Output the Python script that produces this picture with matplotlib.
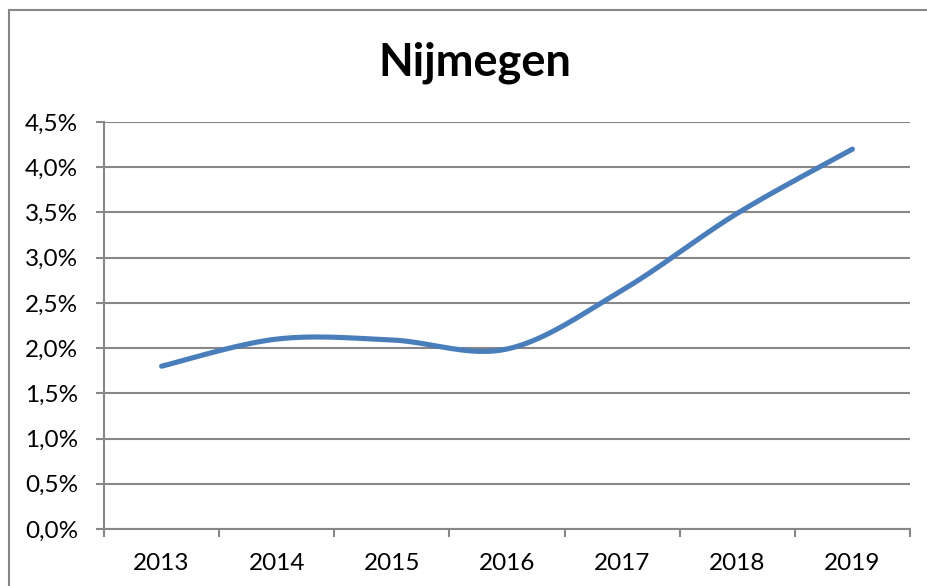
import numpy as np
import matplotlib
matplotlib.use("Agg")
import matplotlib.pyplot as plt
from matplotlib.lines import Line2D

years = ["2013", "2014", "2015", "2016", "2017", "2018", "2019"]
values = [1.80, 2.10, 2.09, 1.99, 2.64, 3.49, 4.20]
y_ticks = [0.0, 0.5, 1.0, 1.5, 2.0, 2.5, 3.0, 3.5, 4.0, 4.5]
title = "Nijmegen"

FONT = ["Lato", "DejaVu Sans"]
GRID = "#878787"
BLUE = "#4a7ebb"


def smooth(xs, ys, n=40):
    # catmull-rom through the points, like the excel "smoothed line" option
    px = np.concatenate([[xs[0]], xs, [xs[-1]]])
    py = np.concatenate([[ys[0]], ys, [ys[-1]]])
    out_x, out_y = [], []
    t = np.linspace(0, 1, n)
    for i in range(1, len(px) - 2):
        p0, p1, p2, p3 = (np.array([px[j], py[j]]) for j in (i - 1, i, i + 1, i + 2))
        c1 = p1 + (p2 - p0) / 6
        c2 = p2 - (p3 - p1) / 6
        b = ((1 - t) ** 3)[:, None] * p1 + (3 * (1 - t) ** 2 * t)[:, None] * c1 \
            + (3 * (1 - t) * t ** 2)[:, None] * c2 + (t ** 3)[:, None] * p2
        out_x.extend(b[:, 0])
        out_y.extend(b[:, 1])
    return np.array(out_x), np.array(out_y)


fig = plt.figure(figsize=(9.28, 5.86), dpi=100)
ax = fig.add_axes([104 / 928, 1 - 529 / 586, 806 / 928, 407 / 586])

x = np.arange(len(years))
sx, sy = smooth(x.astype(float), np.array(values))
ax.plot(sx, sy, color=BLUE, lw=3.7, solid_capstyle="round")

ax.set_xlim(-0.5, len(years) - 0.5)
ax.set_ylim(0, 4.5)
ax.set_yticks(y_ticks)
ax.set_yticklabels([f"{v:.1f}%".replace(".", ",") for v in y_ticks], fontsize=17.5, family=FONT)
ax.set_xticks(x)
ax.set_xticklabels(years, fontsize=17.5, family=FONT)
ax.set_xticks(np.arange(len(years) + 1) - 0.5, minor=True)
ax.tick_params(axis="x", which="major", length=0, pad=17.5)
ax.tick_params(axis="x", which="minor", length=5.8, width=1.5, color=GRID, direction="out")
ax.tick_params(axis="y", length=5.8, width=1.5, color=GRID, pad=13)
ax.grid(axis="y", color=GRID, lw=1.5)
ax.set_axisbelow(True)
for side in ("top", "right"):
    ax.spines[side].set_visible(False)
for side in ("left", "bottom"):
    ax.spines[side].set_color(GRID)
    ax.spines[side].set_linewidth(1.5)

fig.text(475 / 928, 1 - 76 / 586, title, ha="center", va="baseline",
         fontsize=32.5, fontweight="bold", family=FONT)

# outer chart border (runs off the right and bottom edges)
fig.add_artist(Line2D([9.5 / 928, 9.5 / 928], [0, 1 - 10 / 586], color=GRID, lw=1.5))
fig.add_artist(Line2D([9.5 / 928, 1], [1 - 10 / 586, 1 - 10 / 586], color=GRID, lw=1.5))

fig.savefig("out.png", dpi=100)
